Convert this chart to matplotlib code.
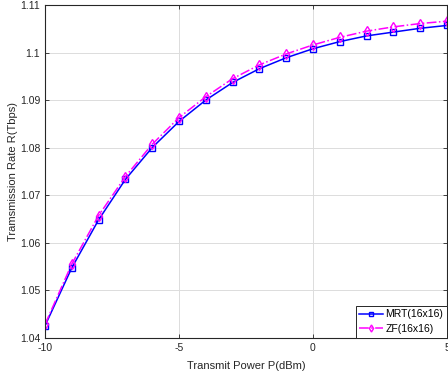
import matplotlib
matplotlib.use("Agg")
import matplotlib.pyplot as plt

power_dbm = [-10, -9, -8, -7, -6, -5, -4, -3, -2, -1, 0, 1, 2, 3, 4, 5]
rate_mrt = [1.0425, 1.0547, 1.0648, 1.0733, 1.0800, 1.0855, 1.0900, 1.0937,
            1.0966, 1.0989, 1.1008, 1.1023, 1.1035, 1.1043, 1.1051, 1.1057]
rate_zf = [1.0428, 1.0555, 1.0657, 1.0739, 1.0807, 1.0863, 1.0907, 1.0945,
           1.0974, 1.0997, 1.1016, 1.1032, 1.1045, 1.1054, 1.1061, 1.1066]
x_ticks = [-10, -5, 0, 5]
y_ticks = [1.04, 1.05, 1.06, 1.07, 1.08, 1.09, 1.1, 1.11]
y_tick_labels = ["1.04", "1.05", "1.06", "1.07", "1.08", "1.09", "1.1", "1.11"]

plt.rcParams["font.family"] = ["Liberation Sans", "DejaVu Sans"]

fig = plt.figure(figsize=(4.48, 3.78), dpi=100)
ax = fig.add_axes([45 / 448, 1 - 337.7 / 378, 402 / 448, 332.7 / 378])

ax.plot(power_dbm, rate_mrt, color="#0000ff", linestyle="-", linewidth=1.1,
        marker="s", markersize=4.5, markerfacecolor="none", markeredgewidth=1.0,
        label="MRT(16x16)")
ax.plot(power_dbm, rate_zf, color="#ff00ff", linestyle="-.", linewidth=1.1,
        marker="d", markersize=5.5, markerfacecolor="none", markeredgewidth=1.0,
        label="ZF(16x16)")

ax.set_xlim(-10, 5)
ax.set_ylim(1.04, 1.11)
ax.set_xticks(x_ticks)
ax.set_xticklabels([str(t) for t in x_ticks])
ax.set_yticks(y_ticks)
ax.set_yticklabels(y_tick_labels)
ax.tick_params(direction="in", length=3, width=0.6, labelsize=7.5,
               colors="#262626", top=True, right=True)
ax.grid(True, color="#dcdcdc", linewidth=0.7)
ax.set_axisbelow(True)
for s in ax.spines.values():
    s.set_linewidth(0.8)
    s.set_color("#262626")

ax.set_xlabel("Transmit Power P(dBm)", fontsize=8, color="#262626", labelpad=6)
ax.set_ylabel("Tramsmission Rate R(Tbps)", fontsize=8, color="#262626", labelpad=1)

leg = ax.legend(loc="lower right", fontsize=7.5, fancybox=False, framealpha=1,
                edgecolor="#262626", borderpad=0.35, handlelength=2.3,
                handletextpad=0.2, labelspacing=0.45, borderaxespad=0,
                markerscale=0.65)
leg.get_frame().set_linewidth(0.7)

fig.savefig("out.png", dpi=100)
